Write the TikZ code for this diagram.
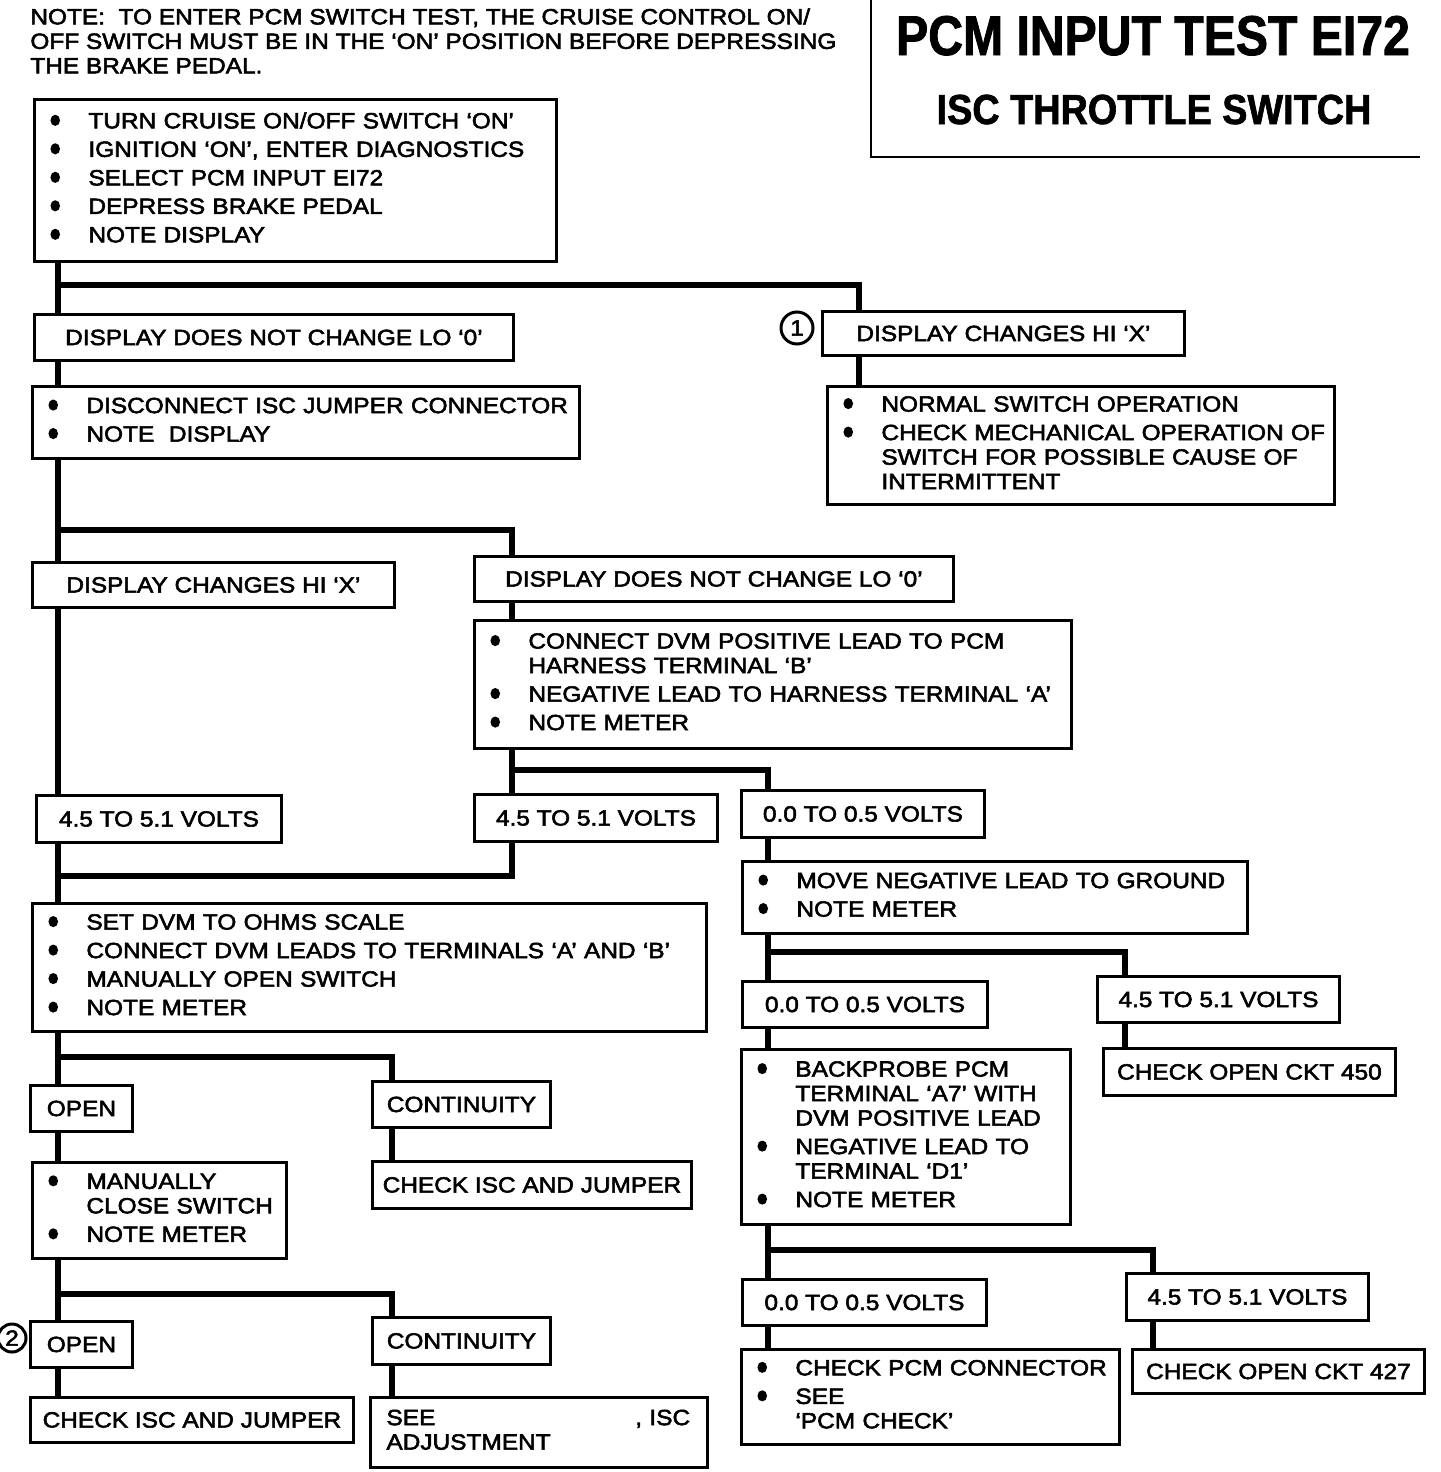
\documentclass[tikz,border=0pt]{standalone}
\usepackage{fontspec}
\setmainfont{Liberation Sans}
\newfontfamily\bodyfont[FakeStretch=1.11,FakeBold=2.5]{Liberation Sans}
\newfontfamily\titlefont[FakeStretch=0.86,FakeBold=1.5]{Liberation Sans}
\newfontfamily\subtitlefont[FakeStretch=0.9,FakeBold=1.5]{Liberation Sans}
\newcommand{\bodysize}{\fontsize{11}{12.25}\selectfont}
\newcommand{\bl}{\makebox[19pt][l]{\tikz[baseline=0pt]\fill (2.4pt,4pt) ellipse [x radius=2.4pt, y radius=2.8pt];}}
\newcommand{\ind}{\hspace*{19pt}}
\newcommand{\steps}[1]{\begin{tabular}{@{}l@{}}#1\end{tabular}}
\tikzset{
  box/.style={draw, line width=1.45pt, anchor=north west, inner sep=0pt,
    font=\bodyfont\bodysize, align=center},
  boxsize/.style 2 args={minimum width=#1*0.5pt, minimum height=#2*0.5pt},
  listbox/.style 2 args={box, boxsize={#1}{#2}, align=left, inner xsep=8pt,
    text width=#1*0.5pt-16pt},
  wire/.style={line width=2.8pt},
  tag/.style={circle, draw, line width=1.5pt, inner sep=0pt, font=\bodyfont\bodysize}
}

\begin{document}
\begin{tikzpicture}[x=0.5pt,y=-0.5pt]
    \useasboundingbox (0,0) rectangle (1440,1472);
    % heading
    \node[anchor=north west, align=left, inner sep=0pt, font=\bodyfont\bodysize] (note) at (30,8)
      {NOTE:\ \ TO ENTER PCM SWITCH TEST, THE CRUISE CONTROL ON/\\OFF SWITCH MUST BE IN THE ‘ON’ POSITION BEFORE DEPRESSING\\THE BRAKE PEDAL.};
    \draw[line width=1.45pt] (871,0) -- (871,157) -- (1420,157);
    \node[anchor=base, font=\titlefont\fontsize{28}{30}\selectfont\bfseries] (title) at (1153,55) {PCM INPUT TEST EI72};
    \node[anchor=base, font=\subtitlefont\fontsize{21}{24}\selectfont\bfseries] (subtitle) at (1154,124) {ISC THROTTLE SWITCH};
    % first test
    \node[listbox={522}{162}] (start) at (33,98) {\steps{\bl TURN CRUISE ON/OFF SWITCH ‘ON’\\[2pt]\bl IGNITION ‘ON’, ENTER DIAGNOSTICS\\[2pt]\bl SELECT PCM INPUT EI72\\[2pt]\bl DEPRESS BRAKE PEDAL\\[2pt]\bl NOTE DISPLAY}};
    \node[box, boxsize={479}{46}] (nochg1) at (33,313) {DISPLAY DOES NOT CHANGE LO ‘0’};
    \node[box, boxsize={362}{44}] (chg1) at (821,310) {DISPLAY CHANGES HI ‘X’};
    \node[tag, minimum size=16pt] (c1) at (797,328) {1};
    \node[listbox={507}{118}] (normal) at (826,385) {\steps{\bl NORMAL SWITCH OPERATION\\[2pt]\bl CHECK MECHANICAL OPERATION OF\\\ind SWITCH FOR POSSIBLE CAUSE OF\\\ind INTERMITTENT}};
    \node[listbox={547}{72}] (disc) at (31,385) {\steps{\bl DISCONNECT ISC JUMPER CONNECTOR\\[2pt]\bl NOTE\ \ DISPLAY}};
    % jumper off
    \node[box, boxsize={362}{45}] (chg2) at (31,561) {DISPLAY CHANGES HI ‘X’};
    \node[box, boxsize={479}{45}] (nochg2) at (473,555) {DISPLAY DOES NOT CHANGE LO ‘0’};
    \node[listbox={597}{128}] (dvmb) at (473,619) {\steps{\bl CONNECT DVM POSITIVE LEAD TO PCM\\\ind HARNESS TERMINAL ‘B’\\[2pt]\bl NEGATIVE LEAD TO HARNESS TERMINAL ‘A’\\[2pt]\bl NOTE METER}};
    \node[box, boxsize={245}{47}] (vhiA) at (35,794) {4.5 TO 5.1 VOLTS};
    \node[box, boxsize={243}{47}] (vhiB) at (473,793) {4.5 TO 5.1 VOLTS};
    \node[box, boxsize={243}{47}] (vloA) at (740,789) {0.0 TO 0.5 VOLTS};
    % ohms check
    \node[listbox={674}{128}] (ohms) at (31,902) {\steps{\bl SET DVM TO OHMS SCALE\\[2pt]\bl CONNECT DVM LEADS TO TERMINALS ‘A’ AND ‘B’\\[2pt]\bl MANUALLY OPEN SWITCH\\[2pt]\bl NOTE METER}};
    \node[box, boxsize={102}{46}] (openA) at (29,1084) {OPEN};
    \node[box, boxsize={178}{46}] (contA) at (371,1080) {CONTINUITY};
    \node[listbox={254}{96}] (closesw) at (31,1161) {\steps{\bl MANUALLY\\\ind CLOSE SWITCH\\[2pt]\bl NOTE METER}};
    \node[box, boxsize={319}{47}] (iscA) at (371,1160) {CHECK ISC AND JUMPER};
    \node[box, boxsize={102}{46}] (openB) at (29,1320) {OPEN};
    \node[tag, minimum size=14pt] (c2) at (12,1338) {2};
    \node[box, boxsize={178}{47}] (contB) at (371,1316) {CONTINUITY};
    \node[box, boxsize={323}{45}] (iscB) at (29,1396) {CHECK ISC AND JUMPER};
    \node[listbox={337}{70}] (adjust) at (369,1396) {\steps{SEE\hspace{100pt}, ISC\\ADJUSTMENT}};
    % ground check
    \node[listbox={505}{72}] (gnd) at (741,860) {\steps{\bl MOVE NEGATIVE LEAD TO GROUND\\[2pt]\bl NOTE METER}};
    \node[box, boxsize={245}{46}] (vloB) at (741,980) {0.0 TO 0.5 VOLTS};
    \node[box, boxsize={242}{46}] (vhiC) at (1096,975) {4.5 TO 5.1 VOLTS};
    \node[box, boxsize={292}{47}] (ckt450) at (1102,1047) {CHECK OPEN CKT 450};
    \node[listbox={329}{175}] (probe) at (740,1048) {\steps{\bl BACKPROBE PCM\\\ind TERMINAL ‘A7’ WITH\\\ind DVM POSITIVE LEAD\\[2pt]\bl NEGATIVE LEAD TO\\\ind TERMINAL ‘D1’\\[2pt]\bl NOTE METER}};
    \node[box, boxsize={244}{46}] (vloC) at (741,1278) {0.0 TO 0.5 VOLTS};
    \node[box, boxsize={242}{47}] (vhiD) at (1125,1272) {4.5 TO 5.1 VOLTS};
    \node[listbox={378}{95}] (pcmchk) at (740,1348) {\steps{\bl CHECK PCM CONNECTOR\\[2pt]\bl SEE\\\ind ‘PCM CHECK’}};
    \node[box, boxsize={292}{44}] (ckt427) at (1131,1348) {CHECK OPEN CKT 427};
    % trunks and branch levels
    \coordinate (tL) at (58,0);
    \coordinate (tK) at (392,0);
    \coordinate (tM) at (512,0);
    \coordinate (tV) at (768,0);
    \coordinate (tR) at (859,0);
    \coordinate (tC) at (1125,0);
    \coordinate (tD) at (1153,0);
    \coordinate (b1) at (0,285);
    \coordinate (b2) at (0,530);
    \coordinate (b3) at (0,770);
    \coordinate (b4) at (0,876);
    \coordinate (b5) at (0,952);
    \coordinate (b6) at (0,1057);
    \coordinate (b7) at (0,1250);
    \coordinate (b8) at (0,1294);
    % connectors
    \draw[wire] (start.south -| tL) -- (nochg1.north -| tL);
    \draw[wire] (b1 -| tL) -| (chg1.north -| tR);
    \draw[wire] (chg1.south -| tR) -- (normal.north -| tR);
    \draw[wire] (nochg1.south -| tL) -- (disc.north -| tL);
    \draw[wire] (disc.south -| tL) -- (chg2.north -| tL);
    \draw[wire] (b2 -| tL) -| (nochg2.north -| tM);
    \draw[wire] (chg2.south -| tL) -- (vhiA.north -| tL);
    \draw[wire] (nochg2.south -| tM) -- (dvmb.north -| tM);
    \draw[wire] (dvmb.south -| tM) -- (vhiB.north -| tM);
    \draw[wire] (b3 -| tM) -| (vloA.north -| tV);
    \draw[wire] (vhiB.south -| tM) |- (b4 -| tL);
    \draw[wire] (vhiA.south -| tL) -- (ohms.north -| tL);
    \draw[wire] (ohms.south -| tL) -- (openA.north -| tL);
    \draw[wire] (b6 -| tL) -| (contA.north -| tK);
    \draw[wire] (openA.south -| tL) -- (closesw.north -| tL);
    \draw[wire] (contA.south -| tK) -- (iscA.north -| tK);
    \draw[wire] (closesw.south -| tL) -- (openB.north -| tL);
    \draw[wire] (b8 -| tL) -| (contB.north -| tK);
    \draw[wire] (openB.south -| tL) -- (iscB.north -| tL);
    \draw[wire] (contB.south -| tK) -- (adjust.north -| tK);
    \draw[wire] (vloA.south -| tV) -- (gnd.north -| tV);
    \draw[wire] (gnd.south -| tV) -- (vloB.north -| tV);
    \draw[wire] (b5 -| tV) -| (vhiC.north -| tC);
    \draw[wire] (vhiC.south -| tC) -- (ckt450.north -| tC);
    \draw[wire] (vloB.south -| tV) -- (probe.north -| tV);
    \draw[wire] (probe.south -| tV) -- (vloC.north -| tV);
    \draw[wire] (b7 -| tV) -| (vhiD.north -| tD);
    \draw[wire] (vloC.south -| tV) -- (pcmchk.north -| tV);
    \draw[wire] (vhiD.south -| tD) -- (ckt427.north -| tD);
\end{tikzpicture}
\end{document}
